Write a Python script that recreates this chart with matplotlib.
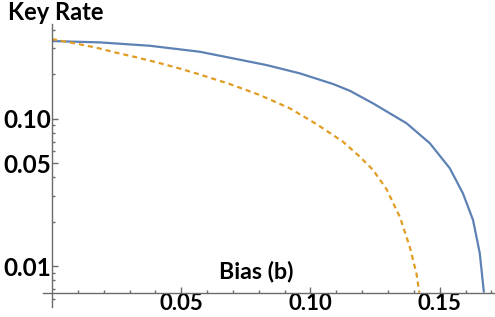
import numpy as np
import matplotlib
matplotlib.use("Agg")
import matplotlib.pyplot as plt
from matplotlib.ticker import FixedLocator, FixedFormatter, NullFormatter

# values (log y axis)
bias_blue = [0.0, 0.0186, 0.0379, 0.0572, 0.0701, 0.0830, 0.0959, 0.1088, 0.1152,
             0.1242, 0.1372, 0.1462, 0.1539, 0.1590, 0.1629, 0.1655, 0.1671]
rate_blue = [0.337, 0.330, 0.313, 0.285, 0.257, 0.2315, 0.2033, 0.172, 0.155,
             0.1272, 0.0931, 0.0681, 0.0461, 0.0311, 0.0205, 0.0122, 0.0066]

bias_orange = [0.0, 0.0089, 0.0173, 0.0250, 0.0328, 0.0411, 0.0488, 0.0566, 0.0688,
               0.0804, 0.0920, 0.1024, 0.1126, 0.1191, 0.1242, 0.1294, 0.1346,
               0.1384, 0.1410, 0.1421]
rate_orange = [0.3475, 0.325, 0.3034, 0.2805, 0.261, 0.240, 0.2208, 0.2012, 0.172,
               0.1449, 0.1177, 0.0918, 0.0698, 0.0552, 0.0449, 0.0333, 0.0215,
               0.0135, 0.0089, 0.0066]

x_ticks = [0.05, 0.10, 0.15]
x_labels = ["0.05", "0.10", "0.15"]
y_ticks = [0.01, 0.05, 0.10]
y_labels = ["0.01", "0.05", "0.10"]

plt.rcParams['font.family'] = ['Lato', 'DejaVu Sans']
plt.rcParams['font.weight'] = 'bold'

fig = plt.figure(figsize=(4.95, 3.17), dpi=100)
ax = fig.add_axes([43 / 495, 10 / 317, 451 / 495, 283 / 317])

ax.plot(bias_blue, rate_blue, color="#5E81B5", lw=1.6, solid_capstyle="butt",
        solid_joinstyle="round")
ax.plot(bias_orange, rate_orange, color="#E19C24", lw=1.6, dashes=(2.3, 1.8))

ax.set_yscale("log")
ax.set_xlim(-0.0035, 0.171)
ax.set_ylim(0.00527, 0.44)

axis_y = 0.00656
for s in ["top", "right"]:
    ax.spines[s].set_visible(False)
ax.spines["left"].set_position(("data", 0))
ax.spines["bottom"].set_position(("data", axis_y))
for s in ["left", "bottom"]:
    ax.spines[s].set_color("#6b6b6b")
    ax.spines[s].set_linewidth(1.0)

ax.xaxis.set_major_locator(FixedLocator(x_ticks))
ax.xaxis.set_major_formatter(FixedFormatter(x_labels))
ax.xaxis.set_minor_locator(FixedLocator([0.01, 0.02, 0.03, 0.04, 0.06, 0.07, 0.08, 0.09,
                                         0.11, 0.12, 0.13, 0.14, 0.16, 0.17]))
ax.yaxis.set_major_locator(FixedLocator(y_ticks))
ax.yaxis.set_major_formatter(FixedFormatter(y_labels))
ax.yaxis.set_minor_locator(FixedLocator([0.006, 0.007, 0.008, 0.009, 0.02, 0.03, 0.04,
                                         0.06, 0.07, 0.08, 0.09, 0.2, 0.3, 0.4]))
ax.yaxis.set_minor_formatter(NullFormatter())

ax.tick_params(which="both", direction="in", color="#6b6b6b", width=1.0)
ax.tick_params(which="major", length=4)
ax.tick_params(axis="x", which="major", pad=0, labelsize=16)
ax.tick_params(axis="y", which="major", pad=1, labelsize=17.5)
ax.tick_params(which="minor", length=2.5)
for lab in ax.get_xticklabels() + ax.get_yticklabels():
    lab.set_fontweight("bold")

fig.text(8 / 495, 1 - 12 / 317, "Key Rate", fontsize=17, fontweight="bold",
         ha="left", va="center")
fig.text(256 / 495, 1 - 271 / 317, "Bias (b)", fontsize=16.7, fontweight="bold",
         ha="center", va="center")

fig.savefig("out.png", dpi=100)
